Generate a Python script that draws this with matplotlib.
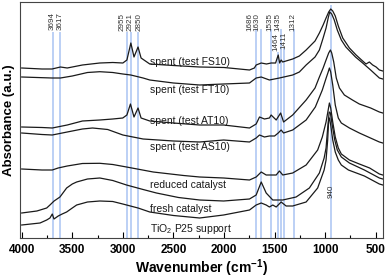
import matplotlib
matplotlib.use("Agg")
import matplotlib.pyplot as plt
from matplotlib.ticker import MultipleLocator

plt.rcParams['font.family'] = ['Liberation Sans', 'DejaVu Sans']
plt.rcParams['mathtext.fontset'] = 'custom'
plt.rcParams['mathtext.rm'] = 'Liberation Sans'
plt.rcParams['mathtext.bf'] = 'Liberation Sans:bold'

# spectra (wavenumber cm-1, absorbance a.u.)
fs10_wn = [4000, 3800, 3700, 3617, 3550, 3400, 3228, 3100, 3000, 2960, 2921, 2890, 2850,
           2820, 2734, 2500, 2241, 2000, 1748, 1700, 1682, 1632, 1580, 1534, 1490, 1464,
           1450, 1435, 1420, 1321, 1255, 1188, 1100, 1057, 1020, 991, 965, 945, 925, 900,
           870, 826, 760, 694, 640, 596, 563, 530, 496, 464, 430]
fs10_ab = [1.68, 1.67, 1.67, 1.69, 1.68, 1.71, 1.73, 1.735, 1.73, 1.76, 1.93, 1.79, 1.89,
           1.78, 1.72, 1.705, 1.69, 1.685, 1.66, 1.68, 1.71, 1.73, 1.72, 1.73, 1.73, 1.81,
           1.73, 1.76, 1.74, 1.77, 1.80, 1.86, 1.95, 2.03, 2.11, 2.18, 2.24, 2.27, 2.25, 2.20,
           2.10, 1.98, 1.88, 1.81, 1.76, 1.72, 1.74, 1.71, 1.69, 1.66, 1.65]

ft10_wn = [4000, 3700, 3617, 3500, 3350, 3228, 3100, 3000, 2922, 2800, 2734, 2500, 2241,
           2004, 1748, 1682, 1632, 1551, 1452, 1321, 1255, 1188, 1100, 1057, 1020, 991, 970,
           955, 935, 910, 880, 840, 795, 700, 629, 550, 464, 430]
ft10_ab = [1.59, 1.58, 1.58, 1.60, 1.635, 1.643, 1.635, 1.62, 1.61, 1.58, 1.56, 1.53, 1.51,
           1.52, 1.53, 1.58, 1.59, 1.56, 1.58, 1.61, 1.64, 1.71, 1.79, 1.86, 1.98, 2.08, 2.18,
           2.24, 2.22, 2.16, 2.06, 1.96, 1.89, 1.79, 1.73, 1.66, 1.58, 1.57]

at10_wn = [4000, 3800, 3698, 3550, 3400, 3228, 3100, 3001, 2960, 2925, 2890, 2850, 2820,
           2734, 2500, 2241, 2004, 1748, 1682, 1649, 1600, 1551, 1534, 1484, 1440, 1411,
           1321, 1188, 1100, 1057, 1020, 991, 965, 948, 935, 915, 890, 859, 810, 730, 662,
           550, 464, 430]
at10_ab = [1.09, 1.085, 1.08, 1.11, 1.15, 1.16, 1.17, 1.18, 1.21, 1.32, 1.19, 1.28, 1.18,
           1.15, 1.13, 1.11, 1.11, 1.08, 1.12, 1.19, 1.17, 1.18, 1.21, 1.16, 1.23, 1.14,
           1.21, 1.36, 1.48, 1.59, 1.68, 1.76, 1.83, 1.86, 1.83, 1.74, 1.58, 1.48, 1.41, 1.36,
           1.32, 1.28, 1.24, 1.23]

as10_wn = [4000, 3800, 3698, 3550, 3400, 3300, 3150, 3000, 2800, 2500, 2241, 2004, 1748,
           1682, 1649, 1600, 1551, 1500, 1464, 1435, 1411, 1321, 1188, 1097, 1028, 990, 970,
           958, 945, 925, 900, 870, 840, 760, 662, 464, 430]
as10_ab = [1.03, 1.015, 1.01, 1.04, 1.07, 1.08, 1.065, 1.01, 0.97, 0.95, 0.94, 0.96, 0.94,
           0.98, 1.01, 0.99, 1.00, 1.00, 1.03, 1.06, 1.03, 1.06, 1.16, 1.29, 1.46, 1.58, 1.64,
           1.68, 1.64, 1.51, 1.31, 1.18, 1.13, 1.08, 1.03, 0.94, 0.93]

red_wn = [4000, 3800, 3698, 3640, 3550, 3400, 3228, 3100, 2964, 2700, 2400, 2241, 2004,
          1748, 1682, 1632, 1583, 1484, 1452, 1419, 1321, 1188, 1074, 1028, 991, 970, 958,
          945, 925, 900, 870, 840, 760, 662, 560, 464, 430]
red_ab = [0.67, 0.66, 0.66, 0.68, 0.70, 0.725, 0.727, 0.715, 0.69, 0.64, 0.605, 0.59, 0.58,
          0.56, 0.59, 0.64, 0.61, 0.61, 0.65, 0.61, 0.63, 0.71, 0.86, 0.99, 1.14, 1.26, 1.33,
          1.28, 1.14, 0.99, 0.88, 0.82, 0.76, 0.72, 0.68, 0.62, 0.61]

fresh_wn = [4000, 3850, 3753, 3721, 3680, 3622, 3556, 3500, 3457, 3350, 3228, 3100, 2964,
            2800, 2668, 2450, 2241, 2004, 1748, 1682, 1632, 1583, 1518, 1419, 1287, 1156,
            1057, 1010, 991, 975, 960, 948, 930, 905, 880, 840, 760, 612, 464, 430]
fresh_ab = [0.23, 0.25, 0.28, 0.31, 0.35, 0.39, 0.48, 0.52, 0.54, 0.57, 0.58, 0.555, 0.51,
            0.465, 0.43, 0.385, 0.36, 0.35, 0.37, 0.41, 0.54, 0.43, 0.36, 0.36, 0.39, 0.48,
            0.63, 0.78, 0.88, 1.08, 1.24, 1.23, 1.11, 0.96, 0.86, 0.79, 0.73, 0.66, 0.58, 0.57]

tio2_wn = [4000, 3819, 3753, 3721, 3698, 3681, 3639, 3600, 3556, 3500, 3457, 3350, 3228,
           3100, 3001, 2850, 2734, 2500, 2241, 2004, 1748, 1682, 1632, 1583, 1551, 1518,
           1484, 1435, 1386, 1321, 1188, 1074, 1010, 991, 975, 965, 957, 945, 925, 900, 870,
           840, 770, 612, 464, 430]
tio2_ab = [0.11, 0.13, 0.16, 0.18, 0.22, 0.17, 0.20, 0.22, 0.24, 0.28, 0.31, 0.34, 0.35,
           0.345, 0.32, 0.28, 0.24, 0.205, 0.18, 0.21, 0.26, 0.31, 0.33, 0.31, 0.29, 0.31,
           0.29, 0.34, 0.30, 0.30, 0.34, 0.48, 0.66, 0.76, 0.96, 1.16, 1.18, 1.11, 0.96, 0.84,
           0.76, 0.71, 0.66, 0.60, 0.52, 0.51]

curve_names = ["spent (test FS10)", "spent (test FT10)", "spent (test AT10)",
               "spent (test AS10)", "reduced catalyst", "fresh catalyst",
               "TiO$_2$ P25 support"]
name_y = [1.74, 1.46, 1.15, 0.89, 0.51, 0.27, 0.07]

# marked bands
bands = [3694, 3617, 2955, 2921, 2850, 1686, 1630, 1535, 1464, 1435, 1411, 1312, 940]
band_text_x = [3700, 3615, 3006, 2924, 2838, 1741, 1672, 1551, 1491, 1469, 1403, 1321, 937]
band_text_top = [2.24, 2.24, 2.23, 2.23, 2.23, 2.23, 2.23, 2.23, 2.03, 2.23, 2.04, 2.23, 0.51]
band_line_top = [2.04, 2.04, 2.04, 2.04, 2.04, 2.07, 2.07, 2.07, 1.84, 2.07, 1.88, 2.07, 2.31]

fig = plt.figure(figsize=(3.87, 2.77), dpi=100)
ax = fig.add_axes([19.5 / 387, 39 / 277, 363.5 / 387, 236 / 277])

for w, top in zip(bands, band_line_top):
    ax.vlines(w, -0.02, top, color="#a9c3f2", lw=1.1, zorder=1)
for w, tx, tt in zip(bands, band_text_x, band_text_top):
    ax.text(tx, tt, str(w), rotation=90, ha="center", va="top",
            fontsize=5.8, color="#333333", zorder=3)

spectra = [(fs10_wn, fs10_ab), (ft10_wn, ft10_ab), (at10_wn, at10_ab), (as10_wn, as10_ab),
           (red_wn, red_ab), (fresh_wn, fresh_ab), (tio2_wn, tio2_ab)]
for wn, ab in spectra:
    ax.plot(wn, ab, color="#1a1a1a", lw=0.9, zorder=2)

for name, y in zip(curve_names, name_y):
    ax.text(2734, y, name, ha="left", va="center", fontsize=7.5, color="#1a1a1a")

ax.set_xlim(4022, 428)
ax.set_ylim(-0.02, 2.34)
ax.set_yticks([])
ax.xaxis.set_major_locator(MultipleLocator(500))
ax.xaxis.set_minor_locator(MultipleLocator(250))
ax.tick_params(axis="x", which="major", direction="in", length=4, width=0.8, pad=4,
               labelsize=8.5)
ax.tick_params(axis="x", which="minor", direction="in", length=2.5, width=0.8)
for lab in ax.get_xticklabels():
    lab.set_fontweight("bold")
for s in ax.spines.values():
    s.set_linewidth(0.8)
    s.set_color("#444444")

ax.set_xlabel("Wavenumber (cm$^{\\mathbf{-1}}$)", fontsize=10, fontweight="bold", labelpad=1)
ax.set_ylabel("Absorbance (a.u.)", fontsize=9.5, fontweight="bold", labelpad=3)

fig.savefig("out.png", dpi=100)
